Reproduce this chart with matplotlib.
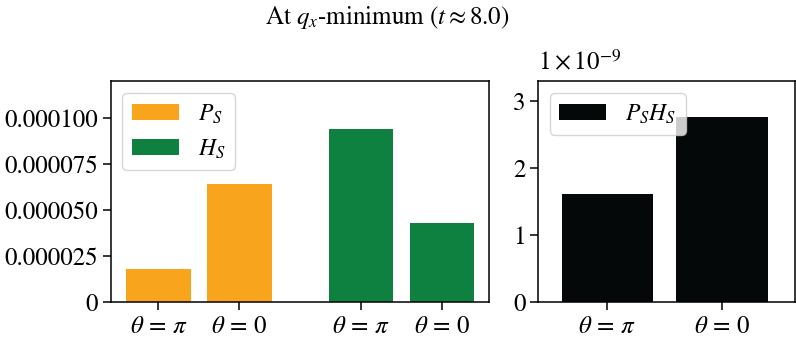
import numpy as np
import matplotlib
matplotlib.use("Agg")
import matplotlib.pyplot as plt
from matplotlib.ticker import FuncFormatter, MultipleLocator

plt.rcParams['font.family'] = ['STIXGeneral', 'DejaVu Serif']
plt.rcParams['mathtext.fontset'] = 'stix'
plt.rcParams['font.size'] = 18

# data
labels = [r'$\theta\,=\,\pi$', r'$\theta\,=\,0$']
P_S = [1.77e-5, 6.43e-5]
H_S = [9.40e-5, 4.29e-5]
PH_S = [1.616e-9, 2.768e-9]

c_orange = '#f8a41d'
c_green = '#0e8040'
c_black = '#050808'

fig = plt.figure(figsize=(7.96, 3.42), dpi=100)
ax1 = fig.add_axes([0.139, 0.1178, 0.4753, 0.6453])
ax2 = fig.add_axes([0.6759, 0.1178, 0.3229, 0.6453])

# left panel: P_S and H_S
x_p = np.array([0, 1])
x_h = np.array([2.5, 3.5])
ax1.bar(x_p, P_S, width=0.8, color=c_orange, label=r'$P_S$')
ax1.bar(x_h, H_S, width=0.8, color=c_green, label=r'$H_S$')
ax1.set_xticks(np.concatenate([x_p, x_h]))
ax1.set_xticklabels(labels + labels)
ax1.set_xlim(-0.59, 4.08)
ax1.set_ylim(0, 1.203e-4)
ax1.yaxis.set_major_locator(MultipleLocator(2.5e-5))
ax1.yaxis.set_major_formatter(FuncFormatter(lambda v, p: '0' if abs(v) < 1e-12 else f'{v:.6f}'))
ax1.legend(loc='upper left', borderaxespad=0.5, fontsize=17)

# right panel: P_S H_S
x2 = np.array([0, 1])
ax2.bar(x2, PH_S, width=0.8, color=c_black, label=r'$P_SH_S$')
ax2.set_xticks(x2)
ax2.set_xticklabels(labels)
ax2.set_xlim(-0.606, 1.64)
ax2.set_ylim(0, 3.305e-9)
ax2.yaxis.set_major_locator(MultipleLocator(1e-9))
ax2.yaxis.set_major_formatter(FuncFormatter(lambda v, p: f'{v/1e-9:.0f}'))
ax2.text(0.0, 1.02, r'$1\times10^{-9}$', transform=ax2.transAxes, ha='left', va='bottom')
ax2.legend(loc='upper left', borderaxespad=0.5, fontsize=17)

for ax in (ax1, ax2):
    ax.tick_params(length=5.5, width=1.1)
    ax.tick_params(axis='x', pad=4)
    for s in ax.spines.values():
        s.set_linewidth(1.1)

fig.text(0.487, 0.95, r'At $q_x$-minimum ($t \approx 8.0$)', ha='center', va='center')

fig.savefig('out.png', dpi=100)
